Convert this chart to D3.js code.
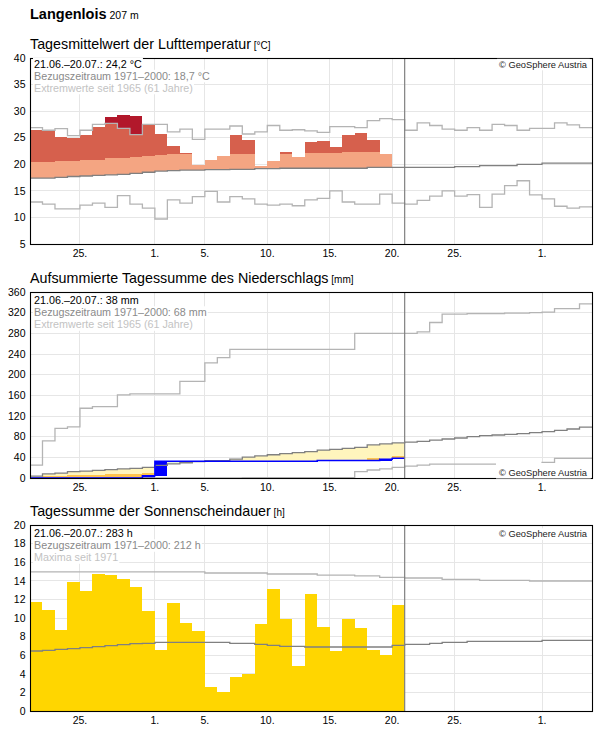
<!DOCTYPE html>
<html>
<head>
<meta charset="utf-8">
<script src="https://cdn.jsdelivr.net/npm/d3@7"></script>
<style>
  body { margin: 0; background: #fff; }
  svg { display: block; font-family: "Liberation Sans", Arial, Helvetica, sans-serif; }
</style>
</head>
<body>
<div class="canvas"></div>
<script>
// days counted from 21.06.2025 (one value per day)
const startDate = '2025-06-21';
const endDate = '2025-08-05';
const todayDate = '2025-07-21';
const tickDates = ['2025-06-25', '2025-07-01', '2025-07-05', '2025-07-10',
                   '2025-07-15', '2025-07-20', '2025-07-25', '2025-08-01'];

const station = 'Langenlois';
const altitude = '207 m';

// air temperature, daily mean [°C]
const tempTicks = [5, 10, 15, 20, 25, 30, 35, 40];
const tempMeasured = [26.4, 26.25, 25.1, 25.0, 25.5, 27.0, 28.9, 29.3, 29.1, 27.4,
                      25.75, 23.4, 22.1, 19.9, 20.8, 21.6, 25.5, 24.6, 19.75, 20.6,
                      22.3, 21.4, 24.2, 24.4, 23.25, 25.5, 25.9, 24.6, 22.0];
const tempUpper = [20.4, 20.5, 20.6, 20.6, 20.75, 20.9, 21.1, 21.25, 21.4, 21.6,
                   21.75, 21.9, 22.0, 22.0, 22.0, 22.0, 21.95, 21.95, 22.0, 22.0,
                   21.9, 22.1, 22.2, 22.2, 22.2, 22.3, 22.3, 22.3, 22.3];
const tempRef = [17.4, 17.4, 17.55, 17.7, 17.8, 17.9, 18.0, 18.1, 18.3, 18.5,
                 18.7, 18.8, 18.9, 18.9, 19.0, 19.0, 19.05, 19.05, 19.2, 19.2,
                 19.25, 19.25, 19.25, 19.25, 19.25, 19.25, 19.25, 19.4, 19.4, 19.4,
                 19.4, 19.4, 19.4, 19.4, 19.55, 19.55, 19.75, 19.75, 19.75, 20.0,
                 20.0, 20.2, 20.2, 20.2, 20.2];
const tempMax = [26.9, 26.4, 26.7, 25.4, 26.4, 27.5, 27.7, 26.75, 25.6, 27.5,
                 27.5, 26.1, 26.6, 24.7, 26.6, 26.6, 27.2, 25.7, 26.1, 27.3,
                 26.4, 26.5, 26.3, 26.0, 27.1, 27.1, 26.9, 28.2, 28.6, 28.4,
                 26.4, 27.8, 27.3, 26.6, 26.4, 26.9, 26.4, 27.5, 27.3, 26.4,
                 26.75, 26.75, 27.8, 27.4, 26.9];
const tempMin = [12.9, 12.5, 11.6, 11.6, 12.3, 12.7, 11.9, 14.1, 12.5, 11.75,
                 9.7, 13.3, 12.7, 13.9, 14.9, 12.9, 13.9, 13.5, 12.5, 12.3,
                 12.5, 12.2, 13.3, 13.6, 15.0, 12.9, 12.5, 12.5, 14.4, 12.7,
                 12.5, 13.2, 14.0, 15.0, 14.0, 14.3, 11.9, 14.4, 16.0, 16.9,
                 14.25, 13.5, 12.1, 11.75, 12.0];

// precipitation, accumulated daily sums [mm]
const precTicks = [0, 40, 80, 120, 160, 200, 240, 280, 320, 360];
const precMeasured = [0, 0, 0, 0, 0, 0, 0, 0, 0, 4.5,
                      32.5, 32.5, 32.5, 32.5, 32.5, 32.5, 32.5, 32.5, 32.5, 32.5,
                      32.5, 32.5, 32.5, 33.8, 33.8, 33.8, 33.8, 33.8, 36.1, 38.0];
const precDry = [2.5, 3.9, 4.5, 5.8, 6.5, 6.5, 7.1, 8.4, 8.4, 10.3,
                 13, 15, 16, 17.5, 18.5, 18.5, 20, 22, 23.5, 25,
                 26, 27, 28, 29.5, 30.5, 31.5, 32.5, 39, 36.8, 43];
const precRef = [3.8, 8.0, 9.5, 12.5, 13.3, 14.8, 16.1, 17.8, 18.5, 20.6,
                 24.5, 27.5, 29.5, 31.6, 33.5, 33.8, 36.5, 40.5, 43.0, 45.0,
                 47.2, 49.0, 51.0, 54.0, 55.5, 57.4, 59.4, 64.0, 66.2, 68.0,
                 69.5, 71.0, 73.5, 75.5, 77.4, 80.0, 82.0, 83.2, 84.5, 85.8,
                 87.7, 89.7, 92.3, 94.8, 98.5];
const precMax = [25, 72, 96, 99, 135, 138, 138, 161, 163, 163,
                 163, 163, 187, 187, 223, 233, 249, 249, 249, 249,
                 249, 249, 249, 249, 249, 249, 280, 280, 280, 280,
                 280, 283, 301, 317, 317, 318, 318, 318, 319, 319,
                 320, 321, 328, 328, 337];
const precMin = [0, 0, 0, 0, 0, 0, 0, 0, 0, 0,
                 0, 0, 0, 0, 0, 0, 0, 0.6, 0.6, 0.6,
                 0.6, 0.6, 0.6, 0.6, 0.6, 0.6, 12.3, 15.5, 17.8, 20.6,
                 23, 25, 27, 27, 27, 27, 27, 27, 27, 27,
                 27, 30, 38, 38, 38];

// sunshine duration, daily sums [h]
const sunTicks = [0, 2, 4, 6, 8, 10, 12, 14, 16, 18, 20];
const sunMeasured = [11.7, 10.9, 8.7, 13.9, 12.9, 14.7, 14.6, 14.2, 13.3, 10.75,
                     6.6, 11.6, 9.5, 8.6, 2.6, 2.0, 3.7, 4.0, 9.35, 13.1,
                     9.9, 4.8, 12.6, 9.0, 6.45, 9.9, 8.9, 6.6, 6.0, 11.4];
const sunRef = [6.45, 6.52, 6.63, 6.7, 6.81, 6.92, 7.03, 7.13, 7.24, 7.28,
                7.38, 7.38, 7.38, 7.38, 7.38, 7.38, 7.28, 7.28, 7.17, 7.06,
                6.95, 6.95, 6.88, 6.88, 6.88, 6.88, 6.88, 6.88, 6.88, 7.06,
                7.17, 7.17, 7.28, 7.38, 7.38, 7.49, 7.49, 7.49, 7.49, 7.49,
                7.49, 7.6, 7.6, 7.6, 7.6];
const sunMax = [14.95, 14.95, 14.95, 14.95, 14.95, 14.95, 14.95, 14.95, 14.95, 14.95,
                14.95, 14.95, 14.95, 14.95, 14.84, 14.84, 14.84, 14.84, 14.84, 14.73,
                14.73, 14.73, 14.73, 14.62, 14.62, 14.62, 14.52, 14.52, 14.37, 14.37,
                14.3, 14.3, 14.3, 14.16, 14.16, 14.16, 14.05, 14.05, 14.05, 14.05,
                13.98, 13.98, 13.98, 13.98, 13.98];

const tempInfo = ['21.06.–20.07.: 24,2 °C', 'Bezugszeitraum 1971–2000: 18,7 °C', 'Extremwerte seit 1965 (61 Jahre)'];
const precInfo = ['21.06.–20.07.: 38 mm', 'Bezugszeitraum 1971–2000: 68 mm', 'Extremwerte seit 1965 (61 Jahre)'];
const sunInfo = ['21.06.–20.07.: 283 h', 'Bezugszeitraum 1971–2000: 212 h', 'Maxima seit 1971'];
const copyright = '© GeoSphere Austria';

const svg = d3.select('.canvas')
    .append('svg')
    .attr('width', 596)
    .attr('height', 729);

const parse = d3.utcParse('%Y-%m-%d');
const day0 = parse(startDate);
const dayAt = i => d3.utcDay.offset(day0, i);

// shared time scale for all three panels
const x = d3.scaleUtc()
    .domain([day0, parse(endDate)])
    .range([30, 592]);

const plotH = 186;
const infoColors = ['#000', '#8a8a8a', '#c3c3c3'];

// header
svg.append('text')
    .attr('x', 30)
    .attr('y', 19.3)
    .style('font-size', '14.5px')
    .style('font-weight', 'bold')
    .text(station)
    .append('tspan')
        .style('font-size', '10.5px')
        .style('font-weight', 'normal')
        .text(' ' + altitude);

// builds frame, grid, axes labels and title of one panel
function panel(top, domain, yTicks, title, unit){
    const bottom = top + plotH;
    const y = d3.scaleLinear().domain(domain).range([bottom, top]);
    const g = svg.append('g');

    g.append('text')
        .attr('x', 30)
        .attr('y', top - 9)
        .style('font-size', '14.3px')
        .text(title)
        .append('tspan')
            .style('font-size', '10px')
            .text(' [' + unit + ']');

    const grid = g.append('g')
        .attr('stroke', '#e6e6e6')
        .attr('stroke-width', 1)
        .attr('shape-rendering', 'crispEdges');

    grid.selectAll('.hg')
        .data(yTicks)
        .enter().append('line')
            .attr('x1', x.range()[0]).attr('x2', x.range()[1])
            .attr('y1', d => y(d)).attr('y2', d => y(d));

    grid.selectAll('.vg')
        .data(tickDates.map(parse))
        .enter().append('line')
            .attr('x1', d => x(d)).attr('x2', d => x(d))
            .attr('y1', top).attr('y2', bottom);

    g.selectAll('.ylab')
        .data(yTicks)
        .enter().append('text')
            .attr('x', 25.5)
            .attr('y', d => y(d))
            .attr('dy', '0.36em')
            .attr('text-anchor', 'end')
            .style('font-size', '10.5px')
            .text(d => d);

    g.selectAll('.xlab')
        .data(tickDates.map(parse))
        .enter().append('text')
            .attr('x', d => x(d))
            .attr('y', bottom + 13)
            .attr('text-anchor', 'middle')
            .style('font-size', '10.5px')
            .text(d3.utcFormat('%-d.'));

    const marks = g.append('g');
    return {g, marks, y, top, bottom};
}

// step path for a daily series
function stepPath(vals, y){
    const pts = vals.map((v, i) => [dayAt(i), v]);
    pts.push([dayAt(vals.length), vals[vals.length - 1]]);
    return d3.line()
        .x(d => x(d[0]))
        .y(d => y(d[1]))
        .curve(d3.curveStepAfter)(pts);
}

function drawStep(p, vals, color, width){
    p.marks.append('path')
        .attr('d', stepPath(vals, p.y))
        .attr('fill', 'none')
        .attr('stroke', color)
        .attr('stroke-width', width);
}

// rect spanning day i between values a and b
function dayRect(p, i, a, b, color){
    const lo = Math.min(a, b), hi = Math.max(a, b);
    p.marks.append('rect')
        .attr('x', x(dayAt(i)))
        .attr('width', x(dayAt(i + 1)) - x(dayAt(i)))
        .attr('y', p.y(hi))
        .attr('height', p.y(lo) - p.y(hi))
        .attr('fill', color)
        .attr('shape-rendering', 'crispEdges');
}

function todayLine(p){
    p.marks.append('line')
        .attr('x1', x(parse(todayDate))).attr('x2', x(parse(todayDate)))
        .attr('y1', p.top).attr('y2', p.bottom)
        .attr('stroke', '#808080')
        .attr('stroke-width', 1.2);
}

function frame(p){
    p.g.append('rect')
        .attr('x', x.range()[0] + 0.5)
        .attr('y', p.top + 0.5)
        .attr('width', x.range()[1] - x.range()[0])
        .attr('height', plotH)
        .attr('fill', 'none')
        .attr('stroke', '#000')
        .attr('stroke-width', 1.1);
}

// text with white background behind it
function label(p, txt, xPos, yPos, size, color, anchor, pad){
    const t = p.g.append('text')
        .attr('x', xPos)
        .attr('y', yPos)
        .attr('fill', color)
        .attr('text-anchor', anchor)
        .style('font-size', size + 'px')
        .text(txt);
    const b = t.node().getBBox();
    p.g.insert('rect', () => t.node())
        .attr('x', b.x - pad[0])
        .attr('y', b.y - pad[1])
        .attr('width', b.width + 2 * pad[0])
        .attr('height', b.height + pad[1] + 0.5)
        .attr('fill', '#fff');
}

function infoBlock(p, lines, firstBase){
    lines.forEach((l, i) => label(p, l, 34, firstBase + i * 12, 10.75, infoColors[i], 'start', [1, 0]));
}

// ---- temperature
const pT = panel(58, [5, 40], tempTicks, 'Tagesmittelwert der Lufttemperatur', '°C');
tempMeasured.forEach((v, i) => {
    const r = tempRef[i], u = tempUpper[i], m = tempMax[i];
    if(v > r) dayRect(pT, i, r, Math.min(v, u), '#f4a582');
    if(v > u) dayRect(pT, i, u, Math.min(v, m), '#d6604d');
    if(v > m) dayRect(pT, i, Math.max(m, u), v, '#b2182b');
});
drawStep(pT, tempMax, '#b4b4b4', 1.3);
drawStep(pT, tempMin, '#b4b4b4', 1.3);
drawStep(pT, tempRef, '#808080', 1.3);
todayLine(pT);
frame(pT);
infoBlock(pT, tempInfo, 67.8);
label(pT, copyright, 587, 67.8, 9.3, '#222', 'end', [2, 1]);

// ---- precipitation
const pP = panel(292, [0, 360], precTicks, 'Aufsummierte Tagessumme des Niederschlags', 'mm');
precMeasured.forEach((v, i) => {
    const r = precRef[i], d = precDry[i];
    if(v < r) dayRect(pP, i, r, Math.max(v, d), '#fff5bd');
    if(v < d) dayRect(pP, i, d, v, '#fec44f');
    if(v > r) dayRect(pP, i, r, v, '#e3f2dc');
});
precMeasured.forEach((v, i) => {
    const prev = i > 0 ? precMeasured[i - 1] : 0;
    if(v > prev) dayRect(pP, i, prev, v, '#0000ff');
});
drawStep(pP, precMax, '#b4b4b4', 1.3);
drawStep(pP, precMin, '#b4b4b4', 1.3);
drawStep(pP, precRef, '#808080', 1.3);
drawStep(pP, precMeasured, '#0000ff', 1.5);
todayLine(pP);
frame(pP);
infoBlock(pP, precInfo, 304.3);
label(pP, copyright, 587, 476, 9.3, '#222', 'end', [3, 5]);

// ---- sunshine
const pS = panel(525, [0, 20], sunTicks, 'Tagessumme der Sonnenscheindauer', 'h');
sunMeasured.forEach((v, i) => dayRect(pS, i, 0, v, '#ffd600'));
drawStep(pS, sunMax, '#b4b4b4', 1.3);
drawStep(pS, sunRef, '#808080', 1.3);
todayLine(pS);
frame(pS);
infoBlock(pS, sunInfo, 537.3);
label(pS, copyright, 587, 537.3, 9.3, '#222', 'end', [2, 1]);
</script>
</body>
</html>
